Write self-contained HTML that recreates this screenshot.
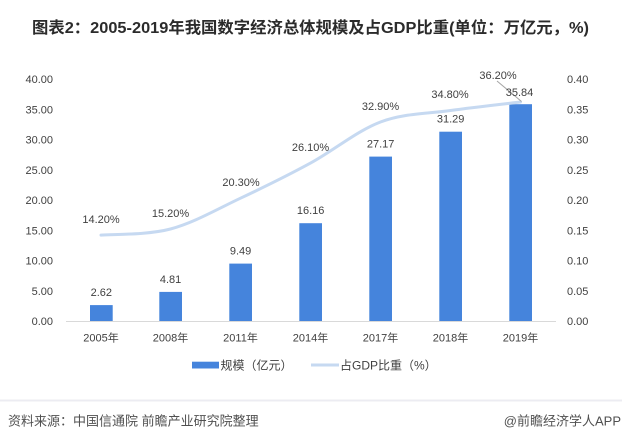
<!DOCTYPE html>
<html>
<head>
<meta charset="utf-8">
<style>
html,body{margin:0;padding:0;background:#fff;}
svg{display:block;}
text{font-family:"Liberation Sans","Noto Sans CJK SC",sans-serif;}
</style>
</head>
<body>
<svg width="622" height="441" viewBox="0 0 622 441" xmlns="http://www.w3.org/2000/svg">
<rect x="0" y="0" width="622" height="441" fill="#ffffff"/>
<!-- Title -->
<text x="32" y="33" font-size="16" font-weight="bold" fill="#2b2b2b" textLength="557" lengthAdjust="spacingAndGlyphs">图表2：2005-2019年我国数字经济总体规模及占GDP比重(单位：万亿元，%)</text>

<!-- Left axis labels -->
<g font-size="11" fill="#404040" text-anchor="end">
<text x="53" y="325">0.00</text>
<text x="53" y="294.75">5.00</text>
<text x="53" y="264.5">10.00</text>
<text x="53" y="234.25">15.00</text>
<text x="53" y="204">20.00</text>
<text x="53" y="173.75">25.00</text>
<text x="53" y="143.5">30.00</text>
<text x="53" y="113.25">35.00</text>
<text x="53" y="83">40.00</text>
</g>
<!-- Right axis labels -->
<g font-size="11" fill="#404040" text-anchor="start">
<text x="567" y="325">0.00</text>
<text x="567" y="294.75">0.05</text>
<text x="567" y="264.5">0.10</text>
<text x="567" y="234.25">0.15</text>
<text x="567" y="204">0.20</text>
<text x="567" y="173.75">0.25</text>
<text x="567" y="143.5">0.30</text>
<text x="567" y="113.25">0.35</text>
<text x="567" y="83">0.40</text>
</g>

<!-- Bars -->
<g fill="#4584DC">
<rect x="90" y="305.1" width="22.7" height="15.9"/>
<rect x="159.3" y="291.9" width="22.7" height="29.1"/>
<rect x="229.3" y="263.6" width="22.7" height="57.4"/>
<rect x="299.3" y="223.2" width="22.7" height="97.8"/>
<rect x="369.3" y="156.6" width="22.7" height="164.4"/>
<rect x="439.3" y="131.7" width="22.7" height="189.3"/>
<rect x="509.3" y="104.2" width="22.7" height="216.8"/>
</g>

<!-- X axis line -->
<line x1="66" y1="321.5" x2="556" y2="321.5" stroke="#d9d9d9" stroke-width="1"/>

<!-- Line series -->
<path d="M101,235.1 C112.6,234.1 147.25,235.15 170.5,229 C193.75,222.85 217.17,209.18 240.5,198.2 C263.83,187.22 287.17,175.8 310.5,163.1 C333.83,150.4 357.17,130.77 380.5,122 C403.83,113.23 427.17,113.83 450.5,110.5 C473.83,107.17 508.83,103.42 520.5,102" fill="none" stroke="#c6d9f1" stroke-width="3" stroke-linecap="round"/>

<!-- Leader line -->
<line x1="497" y1="81" x2="521.5" y2="101.5" stroke="#a6a6a6" stroke-width="1"/>

<!-- Bar labels -->
<g font-size="11" fill="#404040" text-anchor="middle">
<text x="101.3" y="296">2.62</text>
<text x="170.6" y="283">4.81</text>
<text x="240.6" y="254.5">9.49</text>
<text x="310.6" y="214">16.16</text>
<text x="380.6" y="147.5">27.17</text>
<text x="450.6" y="122.5">31.29</text>
<text x="519.5" y="96">35.84</text>
</g>

<!-- Line labels -->
<g font-size="11" fill="#404040" text-anchor="middle">
<text x="101" y="223">14.20%</text>
<text x="170.5" y="217">15.20%</text>
<text x="241" y="186">20.30%</text>
<text x="310.5" y="151">26.10%</text>
<text x="380.5" y="110">32.90%</text>
<text x="450" y="98">34.80%</text>
<text x="498" y="79">36.20%</text>
</g>

<!-- X labels -->
<g font-size="11" fill="#404040" text-anchor="middle">
<text x="101" y="341.5">2005年</text>
<text x="170.5" y="341.5">2008年</text>
<text x="240.5" y="341.5">2011年</text>
<text x="310.5" y="341.5">2014年</text>
<text x="380.5" y="341.5">2017年</text>
<text x="450.5" y="341.5">2018年</text>
<text x="520.5" y="341.5">2019年</text>
</g>

<!-- Legend -->
<rect x="192" y="361.7" width="27" height="6.8" fill="#4584DC"/>
<text x="220.5" y="369.5" font-size="12" fill="#404040">规模（亿元）</text>
<line x1="311" y1="365" x2="339" y2="365" stroke="#c6d9f1" stroke-width="3"/>
<text x="340" y="369.5" font-size="12" fill="#404040">占GDP比重（%）</text>

<!-- Separator -->
<rect x="0" y="399.5" width="622" height="2" fill="#ececf2"/>

<!-- Footer -->
<text x="8" y="425.5" font-size="13" fill="#505050">资料来源：中国信通院 前瞻产业研究院整理</text>
<text x="621" y="425.5" font-size="13" fill="#505050" text-anchor="end">@前瞻经济学人APP</text>
</svg>
</body>
</html>
